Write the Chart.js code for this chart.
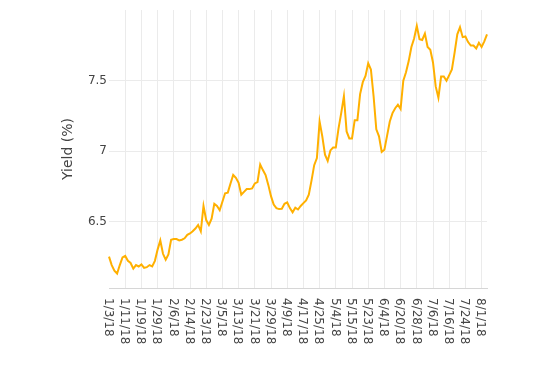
<!DOCTYPE html>
<html>
<head>
<meta charset="utf-8">
<script src="https://cdn.jsdelivr.net/npm/chart.js@4"></script>
<style>
  html, body { margin: 0; padding: 0; background: #fff; }
  #wrap { width: 550px; height: 365px; }
</style>
</head>
<body>
<div id="wrap"><canvas id="myChart" width="550" height="365"></canvas></div>
<script>
// every 6th point gets a date label on the axis
var tickLabels = ['1/3/18', '1/11/18', '1/19/18', '1/29/18', '2/6/18', '2/14/18', '2/23/18', '3/5/18',
    '3/13/18', '3/21/18', '3/29/18', '4/9/18', '4/17/18', '4/25/18', '5/4/18', '5/15/18',
    '5/23/18', '6/4/18', '6/20/18', '6/28/18', '7/6/18', '7/16/18', '7/24/18', '8/1/18'];
var labelStep = 6;

// yield (%), one value per trading day
var yields = [
    6.25, 6.19, 6.15, 6.13, 6.19, 6.245, 6.255, 6.22, 6.205, 6.165,
    6.19, 6.18, 6.195, 6.17, 6.175, 6.19, 6.18, 6.22, 6.30, 6.365,
    6.27, 6.228, 6.265, 6.37, 6.375, 6.375, 6.365, 6.37, 6.38, 6.405,
    6.415, 6.43, 6.45, 6.475, 6.43, 6.61, 6.51, 6.475, 6.52, 6.625,
    6.61, 6.58, 6.64, 6.70, 6.705, 6.77, 6.83, 6.81, 6.775, 6.69,
    6.71, 6.73, 6.73, 6.735, 6.77, 6.78, 6.905, 6.865, 6.83, 6.76,
    6.68, 6.62, 6.595, 6.588, 6.59, 6.625, 6.635, 6.595, 6.565, 6.598,
    6.585, 6.61, 6.63, 6.65, 6.69, 6.79, 6.90, 6.95, 7.21, 7.105,
    6.975, 6.93, 7.005, 7.025, 7.025, 7.16, 7.27, 7.39, 7.14, 7.09,
    7.09, 7.22, 7.22, 7.405, 7.49, 7.535, 7.625, 7.58, 7.39, 7.155,
    7.105, 6.995, 7.01, 7.11, 7.21, 7.27, 7.305, 7.33, 7.30, 7.50,
    7.56, 7.64, 7.74, 7.80, 7.89, 7.795, 7.79, 7.835, 7.74, 7.72,
    7.63, 7.46, 7.38, 7.53, 7.53, 7.50, 7.54, 7.58, 7.70, 7.83,
    7.88, 7.81, 7.815, 7.775, 7.75, 7.75, 7.73, 7.77, 7.74, 7.78,
    7.83
];

var yTicks = [6.5, 7, 7.5];
var yMin = 6.027;
var yMax = 8.003;

var textColor = '#444';
var gridColor = '#ebebeb';
var lineColor = '#ffb000';

var categories = yields.map(function(v, i) {
    return i % labelStep === 0 ? tickLabels[i / labelStep] : '';
});

// x labels run top-to-bottom, which the library can't rotate that way
var downLabels = {
    id: 'downLabels',
    afterDraw: function(chart) {
        var ctx = chart.ctx;
        var xs = chart.scales.x;
        ctx.save();
        ctx.font = '12px "DejaVu Sans"';
        ctx.fillStyle = textColor;
        ctx.textAlign = 'left';
        ctx.textBaseline = 'middle';
        for (var i = 0; i < yields.length; i += labelStep) {
            ctx.save();
            ctx.translate(xs.getPixelForValue(i) - 1, xs.top + 10);
            ctx.rotate(Math.PI / 2);
            ctx.fillText(categories[i], 0, 0);
            ctx.restore();
        }
        ctx.restore();
    }
};

var ctx = document.getElementById('myChart').getContext('2d');
var myChart = new Chart(ctx, {
    type: 'line',
    data: {
        labels: categories,
        datasets: [{
            label: 'Yield',
            data: yields,
            borderColor: lineColor,
            backgroundColor: lineColor,
            borderWidth: 2,
            pointRadius: 0,
            tension: 0,
            fill: false
        }]
    },
    options: {
        responsive: false,
        animation: false,
        layout: { padding: { left: 0, top: 10, right: 63, bottom: 0 } },
        plugins: {
            legend: { display: false },
            tooltip: { enabled: false }
        },
        scales: {
            x: {
                type: 'category',
                offset: false,
                ticks: { display: false, autoSkip: false },
                grid: {
                    drawTicks: false,
                    color: function(c) {
                        return (c.index % labelStep === 0 && c.index > 0) ? gridColor : 'transparent';
                    }
                },
                border: { display: true, color: '#d6d6d6', width: 1 },
                afterFit: function(scale) { scale.height = 77; }
            },
            y: {
                min: yMin,
                max: yMax,
                afterBuildTicks: function(scale) {
                    scale.ticks = yTicks.map(function(v) { return { value: v }; });
                },
                ticks: {
                    color: textColor,
                    font: { family: 'DejaVu Sans', size: 12 },
                    padding: 2,
                    callback: function(v) { return String(v); }
                },
                grid: { color: gridColor, drawTicks: false },
                border: { display: false },
                title: {
                    display: true,
                    text: 'Yield (%)',
                    color: textColor,
                    font: { family: 'DejaVu Sans', size: 14 },
                    padding: { top: 59.6, bottom: 0 }
                },
                afterFit: function(scale) { scale.width = 109; }
            }
        }
    },
    plugins: [downLabels]
});
</script>
</body>
</html>
